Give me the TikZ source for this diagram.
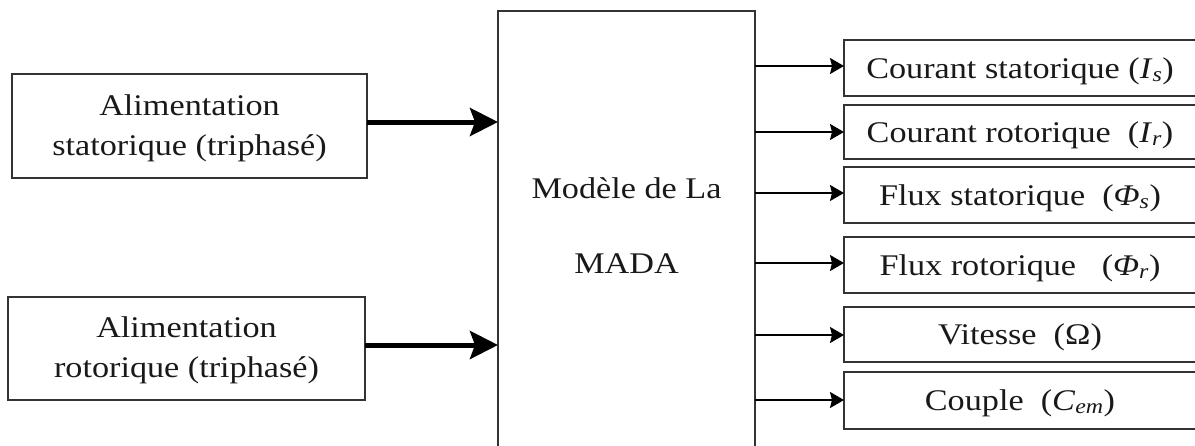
\documentclass[tikz,border=0pt]{standalone}
\usepackage{fontspec}
\setmainfont{Liberation Serif}[FakeStretch=1.14]
\usetikzlibrary{arrows.meta}
\tikzset{
  box/.style={draw=black!80, line width=1.6pt, inner sep=0pt},
  txt/.style={font=\fontsize{30}{40}\selectfont, align=center, text=black!90},
  thick arrow/.style={line width=5pt, -{Stealth[length=28pt, width=28pt, inset=5pt]}},
  thin arrow/.style={line width=1.8pt, -{Stealth[length=14pt, width=16pt, inset=2pt]}},
}
\begin{document}
\begin{tikzpicture}[x=1pt, y=-1pt]
\useasboundingbox (0,0) rectangle (1195,445);
\clip (0,0) rectangle (1195,445);
% left boxes
\draw[box] (12,74) rectangle (367,178);
\node[txt] (in1) at (189.5,128) {Alimentation\\statorique (triphasé)};
\draw[box] (8,297) rectangle (365,400);
\node[txt] (in2) at (186.5,350) {Alimentation\\rotorique (triphasé)};
\coordinate (in1e) at (367,122);
\coordinate (in2e) at (365,345);
% model box
\draw[box] (498,11) rectangle (755,470);
\coordinate (m1) at (498,122);
\coordinate (m2) at (498,345);
\node[txt] (mod1) at (626.5,188) {Modèle de La};
\node[txt] (mod2) at (626.5,264) {MADA};
% thick arrows
\draw[thick arrow] (in1e) -- (m1);
\draw[thick arrow] (in2e) -- (m2);
% output boxes
\foreach \n/\t/\b in {1/40/96, 2/105/159, 3/167/223, 4/237/293, 5/307/362, 6/372/429}{
  \draw[box] (844,\t) rectangle (1198,\b);
}
\node[txt] (o1) at (1020,71) {Courant statorique (\textit{I}\textsubscript{\textit{s}})};
\node[txt] (o2) at (1020,135) {Courant rotorique \ (\textit{I}\textsubscript{\textit{r}})};
\node[txt] (o3) at (1020,198) {Flux statorique \ (\textit{Φ}\textsubscript{\textit{s}})};
\node[txt] (o4) at (1020,268) {Flux rotorique \ \ (\textit{Φ}\textsubscript{\textit{r}})};
\node[txt] (o5) at (1020,337) {Vitesse \ (Ω)};
\node[txt] (o6) at (1020,403) {Couple \ (\textit{C}\textsubscript{\textit{em}})};
% output arrows
\foreach \y in {66,132,193,263,335,400}{
  \draw[thin arrow] (755,\y) -- (844,\y);
}
\end{tikzpicture}
\end{document}
